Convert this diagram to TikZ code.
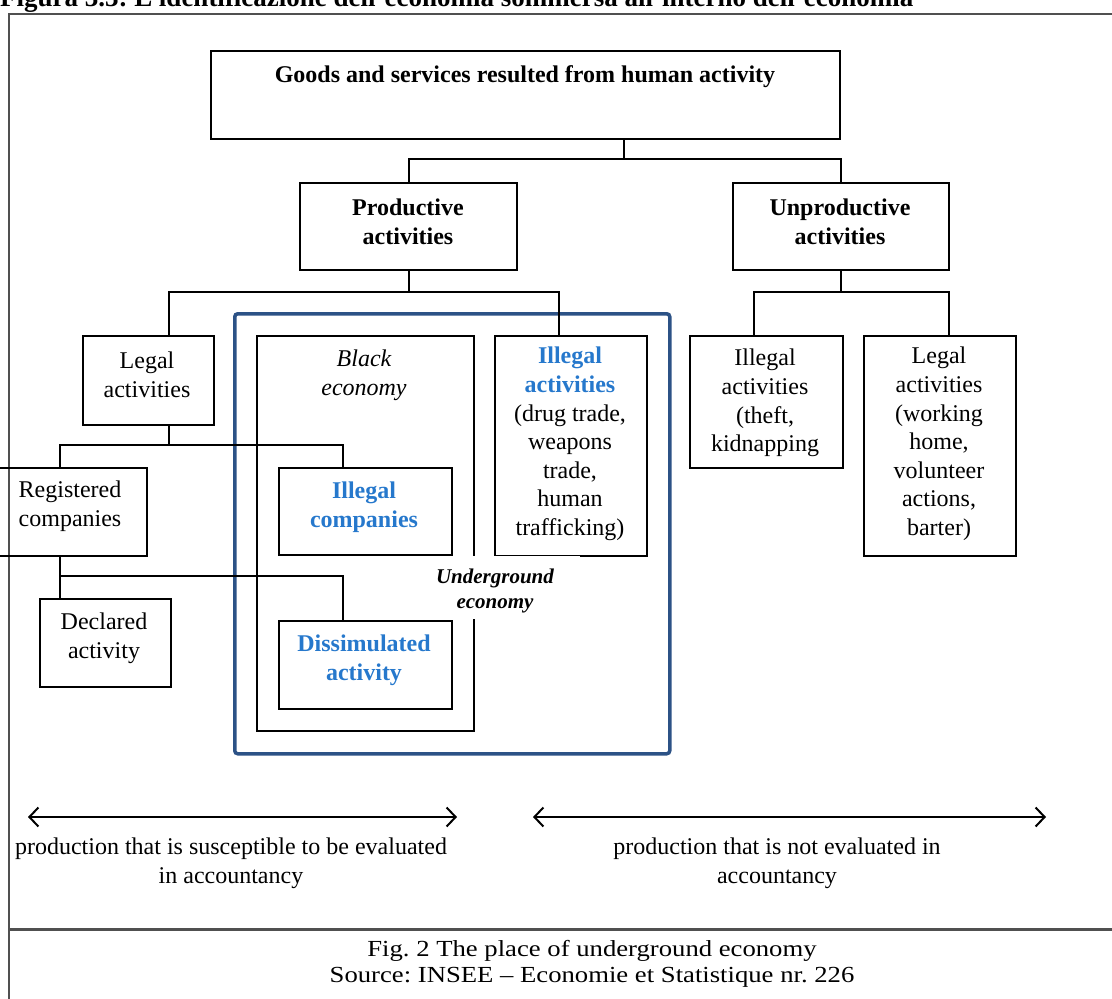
\documentclass[tikz,border=0pt]{standalone}
\usepackage{fontspec}
\setmainfont{Liberation Serif}
\usetikzlibrary{arrows.meta}
\definecolor{navy}{RGB}{44,82,134}
\definecolor{hiblue}{RGB}{38,120,204}
\definecolor{framegray}{RGB}{80,80,80}
\frenchspacing
\newcommand{\widecap}[1]{\scalebox{1.16}[1]{#1}}

\begin{document}
\begin{tikzpicture}[x=1pt,y=-1pt,
  box/.style={draw=black, line width=2pt, inner sep=0pt, anchor=north west},
  sz/.style 2 args={minimum width=#1 pt, minimum height=#2 pt},
  txt/.style={align=center, inner sep=0pt, font=\fontsize{24}{28.6}\selectfont},
  btxt/.style={txt, font=\fontsize{24}{28.6}\selectfont\bfseries},
  blue/.style={btxt, text=hiblue},
  wire/.style={draw=black, line width=2pt, line cap=rect},
  frameline/.style={draw=framegray, line width=2pt},
  span/.style={draw=black, line width=2pt,
    {Straight Barb[length=9pt,width=19pt]}-{Straight Barb[length=9pt,width=19pt]}},
]
\useasboundingbox (0,0) rectangle (1112,999);

% heading above the frame
\node[anchor=base west, inner sep=0pt, font=\fontsize{27}{31}\selectfont\bfseries] (heading) at (0,6.5)
  {Figura 3.3: L'identificazione dell'economia sommersa all'interno dell'economia};

% outer frame and caption separator
\coordinate (fBL) at (9,1010);
\coordinate (fTL) at (9,14);
\coordinate (fTR) at (1120,14);
\coordinate (sepL) at (9,929);
\coordinate (sepR) at (1120,929);
\draw[frameline] (fBL) -- (fTL) -- (fTR);
\draw[draw=framegray, line width=3pt] (sepL) -- (sepR);

% underground economy frame
\node[draw=navy, line width=3.5pt, rounded corners=3pt, inner sep=0pt, anchor=north west, sz={435}{440}] (under) at (233,312) {};

% boxes
\node[box, sz={629}{88}]  (top)     at (210,50)  {};
\node[box, sz={217}{87}]  (prod)    at (299,182) {};
\node[box, sz={216}{87}]  (unprod)  at (732,182) {};
\node[box, sz={131}{89}]  (legal)   at (82,335)  {};
\node[box, sz={217}{395}] (black)   at (256,335) {};
\node[box, sz={152}{220}] (illact)  at (494,335) {};
\node[box, sz={153}{132}] (theft)   at (689,335) {};
\node[box, sz={152}{220}] (legwork) at (863,335) {};
\node[box, sz={152}{88}]  (reg)     at (-6,467)  {};
\node[box, sz={173}{87}]  (illcomp) at (278,467) {};
\node[box, sz={131}{88}]  (decl)    at (39,598)  {};
\node[box, sz={173}{88}]  (diss)    at (278,620) {};

% junction points of the tree
\coordinate (b1)  at (624,159);
\coordinate (b2)  at (169,292);
\coordinate (b2r) at (559,292);
\coordinate (b3)  at (754,292);
\coordinate (b3r) at (949,292);
\coordinate (b4m) at (169,445);
\coordinate (b4)  at (60,445);
\coordinate (b4r) at (343,445);
\coordinate (b5)  at (60,576);
\coordinate (b5r) at (343,576);

% connectors
\draw[wire] (top.south -| b1) -- (b1);
\draw[wire] (prod.north) |- (b1) -| (unprod.north);
\draw[wire] (prod.south) -- (prod.south |- b2);
\draw[wire] (b2 |- legal.north) -- (b2) -- (b2r) -- (b2r |- illact.north);
\draw[wire] (unprod.south) -- (unprod.south |- b3);
\draw[wire] (b3 |- theft.north) -- (b3) -- (b3r) -- (b3r |- legwork.north);
\draw[wire] (b4m |- legal.south) -- (b4m);
\draw[wire] (b4 |- reg.north) -- (b4) -- (b4r) -- (b4r |- illcomp.north);
\draw[wire] (b5 |- reg.south) -- (b5 |- decl.north);
\draw[wire] (b5) -- (b5r) -- (b5r |- diss.north);

% texts
\node[btxt] (top-t) at (525,77) {Goods and services resulted from human activity};
\node[btxt] (prod-t) at (408,222) {Productive\\activities};
\node[btxt] (unprod-t) at (840,222) {Unproductive\\activities};
\node[txt] (legal-t) at (147,375) {Legal\\activities};
\node[txt, font=\fontsize{24}{28.6}\selectfont\itshape] (black-t) at (364,375) {Black\\economy};
\node[txt] (illact-t) at (570,444)
  {\textcolor{hiblue}{\bfseries Illegal}\\\textcolor{hiblue}{\bfseries activities}\\(drug trade,\\weapons\\trade,\\human\\trafficking)};
\node[txt] (theft-t) at (765,403) {Illegal\\activities\\(theft,\\kidnapping};
\node[txt] (legwork-t) at (939,444) {Legal\\activities\\(working\\home,\\volunteer\\actions,\\barter)};
\node[txt] (reg-t) at (70,506) {Registered\\companies};
\node[blue] (illcomp-t) at (364,507) {Illegal\\companies};
\node[txt] (decl-t) at (104,638) {Declared\\activity};
\node[blue] (diss-t) at (364,660) {Dissimulated\\activity};

% label of the underground economy, on a white ground that breaks the black economy box
\node[fill=white, inner sep=0pt, minimum width=172pt, minimum height=63pt] (under-bg) at (494,587.5) {};
\node[txt, font=\fontsize{21}{24.5}\selectfont\bfseries\itshape] (under-t) at (495,591) {Underground\\economy};

% measured and unmeasured production
\coordinate (aL1) at (28,817);
\coordinate (aL2) at (457,817);
\coordinate (aR1) at (533,817);
\coordinate (aR2) at (1046,817);
\draw[span] (aL1) -- (aL2);
\draw[span] (aR1) -- (aR2);
\node[txt] (evalL) at (231,863) {production that is susceptible to be evaluated\\in accountancy};
\node[txt] (evalR) at (777,863) {production that is not evaluated in\\accountancy};

% caption
\node[txt, font=\fontsize{23}{26.6}\selectfont] (caption) at (592,964)
  {\widecap{Fig. 2 The place of underground economy}\\\widecap{Source: INSEE -- Economie et Statistique nr. 226}};
\end{tikzpicture}
\end{document}
